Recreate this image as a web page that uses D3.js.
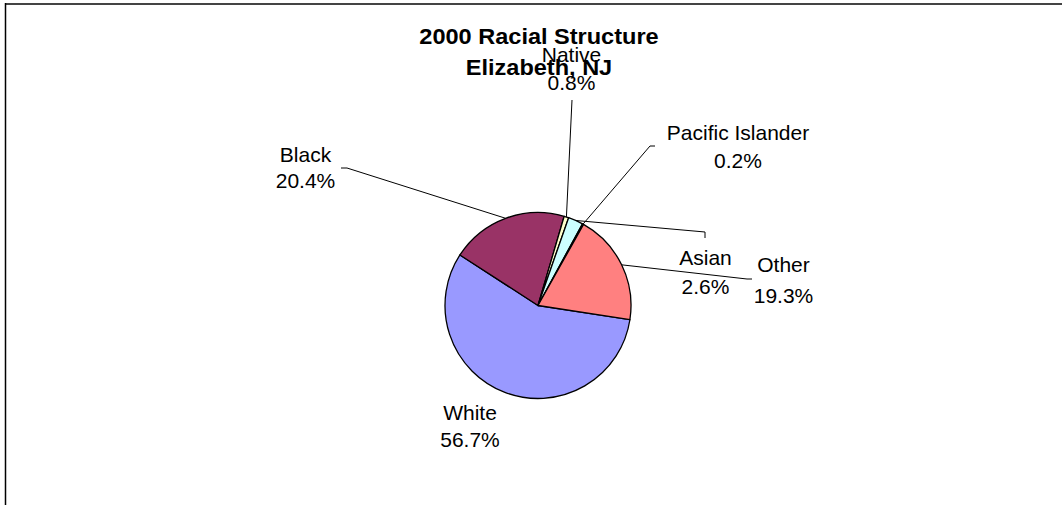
<!DOCTYPE html>
<html>
<head>
<meta charset="utf-8">
<script src="https://cdn.jsdelivr.net/npm/d3@7"></script>
<style>
  html, body { margin: 0; padding: 0; background: #fff; }
  svg { display: block; }
  text { font-family: "Liberation Sans", Arial, sans-serif; fill: #000; }
</style>
</head>
<body>
<script>
// ---- data ----
const categories = ["White", "Black", "Native", "Asian", "Pacific Islander", "Other"];
const values = [56.7, 20.4, 0.8, 2.6, 0.2, 19.3];
const percentLabels = ["56.7%", "20.4%", "0.8%", "2.6%", "0.2%", "19.3%"];
const sliceColors = ["#9999FF", "#993366", "#FFFFCC", "#CCFFFF", "#660066", "#FF8080"];
const titleLines = ["2000 Racial Structure", "Elizabeth, NJ"];

// ---- layout ----
const W = 1062, H = 505;
const cx = 538, cy = 305.5, R = 93;
const startDeg = 98.8;
// manual label placements (label centre x, first baseline, line gap, leader elbow points)
const labelLayout = [
  { x: 470,   y: 420,   gap: 27, leader: null },
  { x: 305.5, y: 162,   gap: 26, leader: [[341, 168], [347, 168]] },
  { x: 571.5, y: 62,    gap: 28, leader: [[572, 100]] },
  { x: 705.5, y: 265,   gap: 29, leader: [[705, 238], [705, 232]] },
  { x: 738,   y: 139.5, gap: 28, leader: [[655, 146], [650, 146]] },
  { x: 783.5, y: 272,   gap: 31, leader: [[752, 279], [747, 279]] }
];

const svg = d3.select("body").append("svg").attr("width", W).attr("height", H);

// frame
svg.append("line").attr("x1", 5).attr("x2", W).attr("y1", 4).attr("y2", 4)
  .attr("stroke", "#444").attr("stroke-width", 2);
svg.append("line").attr("x1", 5.5).attr("x2", 5.5).attr("y1", 3).attr("y2", H)
  .attr("stroke", "#000").attr("stroke-width", 1.5);

const rows = categories.map((c, i) => ({ name: c, value: values[i], pct: percentLabels[i], color: sliceColors[i], lay: labelLayout[i] }));

const start = startDeg * Math.PI / 180;
const pie = d3.pie().sort(null).value(d => d.value).startAngle(start).endAngle(start + 2 * Math.PI);
const arcs = pie(rows);
const arc = d3.arc().innerRadius(0).outerRadius(R);

const g = svg.append("g").attr("transform", `translate(${cx},${cy})`);
g.selectAll("path").data(arcs).join("path")
  .attr("d", arc)
  .attr("fill", d => d.data.color)
  .attr("stroke", "#000")
  .attr("stroke-width", 1.3)
  .attr("stroke-linejoin", "round");

// title
const title = svg.append("g").attr("transform", `translate(539,0)`);
titleLines.forEach((t, i) => {
  title.append("text")
    .attr("transform", `translate(0,${43.7 + i * 31.6}) scale(1.07,1)`)
    .attr("text-anchor", "middle")
    .attr("font-size", 22).attr("font-weight", "bold")
    .text(t);
});

// leader lines
arcs.forEach(a => {
  const L = a.data.lay.leader;
  if (!L) return;
  const mid = (a.startAngle + a.endAngle) / 2;
  const px = cx + R * Math.sin(mid), py = cy - R * Math.cos(mid);
  const pts = L.concat([[px, py]]);
  svg.append("path")
    .attr("d", d3.line()(pts))
    .attr("fill", "none").attr("stroke", "#000").attr("stroke-width", 1);
});

// labels
rows.forEach(r => {
  const t = svg.append("text").attr("text-anchor", "middle").attr("font-size", 21);
  t.append("tspan").attr("x", r.lay.x).attr("y", r.lay.y).text(r.name);
  t.append("tspan").attr("x", r.lay.x).attr("y", r.lay.y + r.lay.gap).text(r.pct);
});
</script>
</body>
</html>
